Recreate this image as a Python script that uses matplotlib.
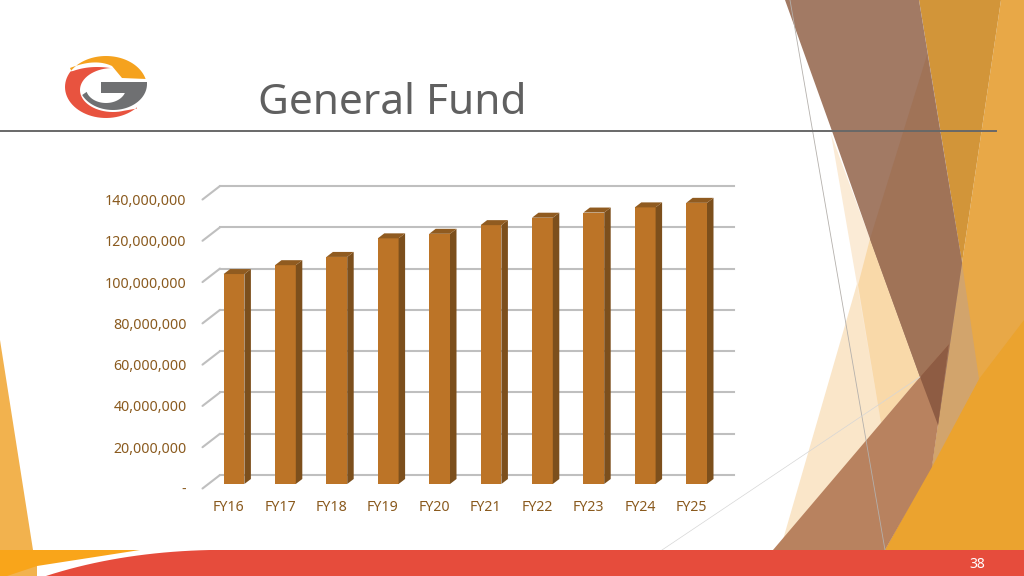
import numpy as np
import matplotlib
matplotlib.use("Agg")
import matplotlib.pyplot as plt
from matplotlib.patches import Polygon
from matplotlib.transforms import Affine2D

# ---- data -------------------------------------------------------------
categories = ["FY16", "FY17", "FY18", "FY19", "FY20", "FY21", "FY22", "FY23", "FY24", "FY25"]
fund_values = [101.7e6, 106.0e6, 110.0e6, 119.0e6, 121.2e6, 125.4e6, 129.0e6, 131.5e6, 134.0e6, 136.2e6]
y_ticks = [0, 20e6, 40e6, 60e6, 80e6, 100e6, 120e6, 140e6]
y_tick_labels = ["-", "20,000,000", "40,000,000", "60,000,000", "80,000,000",
                 "100,000,000", "120,000,000", "140,000,000"]
title_text = "General Fund"
page_number = "38"

W, H = 1024, 576
fig = plt.figure(figsize=(W / 100, H / 100), dpi=100, facecolor="white")

# ---- slide decoration (pixel coordinates) ------------------------------
bg = fig.add_axes([0, 0, 1, 1], zorder=0)
bg.set_xlim(0, W)
bg.set_ylim(H, 0)
bg.axis("off")


def poly(pts, color, alpha=1.0, z=1):
    bg.add_patch(Polygon(pts, closed=True, facecolor=color, edgecolor="none", alpha=alpha, zorder=z))


def arc(cx, cy, rx, ry, a0, a1, n=40):
    t = np.radians(np.linspace(a0, a1, n))
    return list(zip(cx + rx * np.cos(t), cy - ry * np.sin(t)))


def bez(p0, p1, p2, n=20):
    t = np.linspace(0, 1, n)
    return [((1 - u) ** 2 * p0[0] + 2 * u * (1 - u) * p1[0] + u ** 2 * p2[0],
             (1 - u) ** 2 * p0[1] + 2 * u * (1 - u) * p1[1] + u ** 2 * p2[1]) for u in t]


# right-hand facets
poly([(780, 550), (870, 239), (920, 377), (790, 545), (773, 550)], "#FAE6C9", z=1)
poly([(831, 134), (870, 239), (920, 377), (881, 423)], "#FBEBD6", z=1.1)
poly([(870, 239), (920, 377), (881, 423), (858, 285)], "#F9D9A9", z=1.2)
poly([(1001, 0), (1024, 0), (1024, 550), (885, 550), (932, 467), (962, 263)], "#E8A847", z=1.3)
poly([(919, 0), (1001, 0), (962, 263)], "#D29539", z=1.4)
poly([(885, 550), (979, 379), (1024, 320), (1024, 550)], "#EBA32F", z=1.5)
poly([(962, 263), (979, 379), (932, 467), (938, 425)], "#D2A46C", z=1.6)
poly([(785, 0), (919, 0), (962, 263), (938, 425), (920, 377), (870, 239), (832, 131)], "#A27A64", z=2)
poly([(927, 55), (962, 263), (938, 425), (920, 377), (870, 239)], "#A07357", z=2.1)
poly([(773, 550), (920, 377), (949, 344), (938, 425), (932, 467), (885, 550)], "#B8825F", z=2.2)
poly([(920, 377), (949, 344), (938, 425)], "#8E5C43", z=2.3)
bg.plot([790, 885], [0, 550], color="#B4B0AC", lw=0.6, zorder=3)
bg.plot([662, 920], [550, 377], color="#D6D6D6", lw=0.5, zorder=3)

# left-hand facets and bottom band
poly([(0, 340), (33, 550), (0, 550)], "#F2B24E", z=1)
poly([(0, 550), (37, 550), (37, 576), (0, 576)], "#F2B24E", z=1)
poly([(0, 550), (140, 550), (37, 566), (7, 576), (0, 576)], "#F9A51A", z=1.2)
poly(bez((46, 576), (120, 552), (210, 550)) + [(1024, 550), (1024, 576)], "#E64C3C", z=4)

# logo
poly(arc(106, 87, 41, 31, 15, 148) + bez((70, 68), (95, 58), (112, 66))[0:] + [(122, 78)], "#F5A21E", z=5)
poly(bez((110, 68), (90, 65), (73, 71)) + arc(106, 87, 41, 31, 150, 319)
     + [(137, 108.5)] + arc(113, 90, 33, 22, 290, 90), "#E8533F", z=5)
poly([(101, 82), (147, 82)] + arc(113, 84, 34, 26, 0, -155)
     + arc(106, 88, 20, 15, 195, 345) + [(125, 93), (101, 93)], "#6F7072", z=5)

# header
bg.plot([0, 996], [131, 131], color="#686868", lw=1.4, zorder=6)
bg.text(258, 114, title_text, fontsize=30.5, color="#606060", family="Noto Sans", weight="light",
        va="baseline", ha="left", zorder=6)
bg.text(977.5, 564, page_number, fontsize=10, color="white", family="Noto Sans",
        va="center", ha="center", zorder=6)

# ---- chart: axes box is the back plane of the 3-D plot --------------------
ax = fig.add_axes([220 / W, 1 - 475 / H, 514 / W, 289 / H], zorder=2)
ax.patch.set_alpha(0)
ax.set_xlim(-0.5, len(categories) - 0.5)
ax.set_ylim(0, 140e6)
for s in ax.spines.values():
    s.set_visible(False)

GRID = "#BFBFBF"
TEXT = "#8A5A1E"
ax.set_axisbelow(True)
ax.yaxis.grid(True, color=GRID, lw=1.5)
ax.xaxis.grid(False)

x_px = 514 / len(categories)   # pixels per category
y_px = 289 / 140e6             # pixels per unit

# diagonal floor/wall ticks
for v in y_ticks:
    ax.plot([-0.5, -0.5 - 17.5 / x_px], [v, v - 13.5 / y_px], color=GRID, lw=1.5,
            clip_on=False, zorder=1, solid_capstyle="round")

# bars: front face is shifted from the back plane toward the viewer
front = ax.transData + Affine2D().translate(-11.7, -9)
bar_w = 20.8 / x_px
depth_x = 6.5 / x_px
depth_y = 5 / y_px
xs = list(range(len(categories)))
bars = ax.bar(xs, fund_values, width=bar_w, color="#BC7427", transform=front, zorder=3,
              linewidth=0, clip_on=False)
for bar in bars:
    l, r = bar.get_x(), bar.get_x() + bar.get_width()
    t = bar.get_height()
    ax.add_patch(Polygon([(r, 0), (r + depth_x, depth_y), (r + depth_x, t + depth_y), (r, t)],
                         closed=True, facecolor="#7C4F1C", edgecolor="none", transform=front,
                         zorder=3, clip_on=False))
    ax.add_patch(Polygon([(l, t), (l + depth_x, t + depth_y), (r + depth_x, t + depth_y), (r, t)],
                         closed=True, facecolor="#905B20", edgecolor="none", transform=front,
                         zorder=3, clip_on=False))
for ln in ax.get_ygridlines():
    ln.set_clip_on(False)

# tick labels
ax.set_xticks(xs, categories)
ax.set_yticks(y_ticks, y_tick_labels)
ax.tick_params(axis="both", length=0, labelcolor=TEXT, labelsize=10.2)
ax.tick_params(axis="y", pad=33.5 * 0.72)
ax.tick_params(axis="x", pad=25 * 0.72)
for lab in ax.get_xticklabels():
    lab.set_family("Noto Sans")
    lab.set_transform(lab.get_transform() + Affine2D().translate(-17, 0))
for lab in ax.get_yticklabels():
    lab.set_family("Noto Sans")
    lab.set_transform(lab.get_transform() + Affine2D().translate(0, -13.5))

fig.savefig("out.png", dpi=100)
